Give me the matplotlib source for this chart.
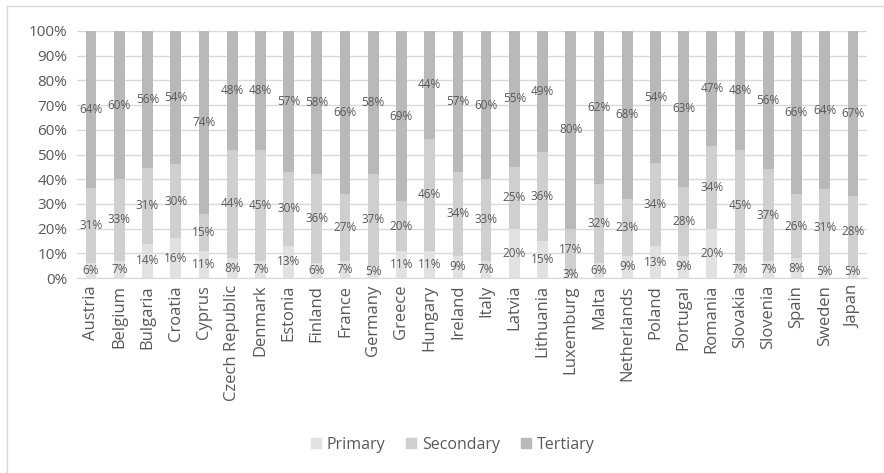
import numpy as np
import matplotlib
matplotlib.use("Agg")
import matplotlib.pyplot as plt
from matplotlib.lines import Line2D

plt.rcParams['font.family'] = ['Open Sans', 'DejaVu Sans']

countries = ['Austria', 'Belgium', 'Bulgaria', 'Croatia', 'Cyprus', 'Czech Republic',
             'Denmark', 'Estonia', 'Finland', 'France', 'Germany', 'Greece', 'Hungary',
             'Ireland', 'Italy', 'Latvia', 'Lithuania', 'Luxemburg', 'Malta',
             'Netherlands', 'Poland', 'Portugal', 'Romania', 'Slovakia', 'Slovenia',
             'Spain', 'Sweden', 'Japan']
primary = [6, 7, 14, 16, 11, 8, 7, 13, 6, 7, 5, 11, 11, 9, 7, 20, 15, 3, 6, 9, 13, 9, 20, 7, 7, 8, 5, 5]
secondary = [31, 33, 31, 30, 15, 44, 45, 30, 36, 27, 37, 20, 46, 34, 33, 25, 36, 17, 32, 23, 34, 28, 34, 45, 37, 26, 31, 28]
tertiary = [64, 60, 56, 54, 74, 48, 48, 57, 58, 66, 58, 69, 44, 57, 60, 55, 49, 80, 62, 68, 54, 63, 47, 48, 56, 66, 64, 67]
y_ticks = [0, 10, 20, 30, 40, 50, 60, 70, 80, 90, 100]

series = [('Primary', primary, '#e1e1e1'),
          ('Secondary', secondary, '#cfcfcf'),
          ('Tertiary', tertiary, '#b9b9ba')]
text_col = '#595959'

fig = plt.figure(figsize=(8.84, 4.73), dpi=100)
ax = fig.add_axes([77/884, 1 - 278/473, 790/884, 247/473])

x = np.arange(len(countries))
totals = np.array(primary) + np.array(secondary) + np.array(tertiary)
bottom = np.zeros(len(countries))
for name, vals, col in series:
    v = np.array(vals, dtype=float)
    share = v / totals * 100
    ax.bar(x, share, 0.38, bottom=bottom, color=col, zorder=2, label=name)
    for xi, b, s, lab in zip(x, bottom, share, vals):
        ax.text(xi, b + s / 2, f'{lab}%', ha='center', va='center',
                fontsize=8.5, color=text_col, zorder=3)
    bottom += share

ax.set_xlim(-0.5, len(countries) - 0.5)
ax.set_ylim(0, 100)
ax.set_yticks(y_ticks)
ax.set_yticklabels([f'{t}%' for t in y_ticks])
ax.set_xticks(x)
ax.set_xticklabels(countries, rotation=90)
ax.tick_params(axis='y', length=0, labelsize=11, labelcolor=text_col, pad=7)
ax.tick_params(axis='x', length=0, labelsize=12, labelcolor=text_col, pad=5)
ax.grid(axis='y', color='#d9d9d9', lw=1, zorder=0)
for sp in ['top', 'right', 'left']:
    ax.spines[sp].set_visible(False)
ax.spines['bottom'].set_color('#d9d9d9')

handles = [Line2D([], [], marker='s', ls='', color=c, markersize=7) for _, _, c in series]
fig.legend(handles, [n for n, _, _ in series], loc='center',
           bbox_to_anchor=(452/884, 1 - 445/473), ncol=3, frameon=False,
           fontsize=11.5, labelcolor=text_col, handlelength=0.8,
           handletextpad=0.3, columnspacing=1.2)

# outer chart border
fig.add_artist(Line2D([7/884, 7/884], [0, 1 - 6/473], color='#d9d9d9', lw=1))
fig.add_artist(Line2D([7/884, 1], [1 - 6/473, 1 - 6/473], color='#d9d9d9', lw=1))

fig.savefig('out.png', dpi=100)
